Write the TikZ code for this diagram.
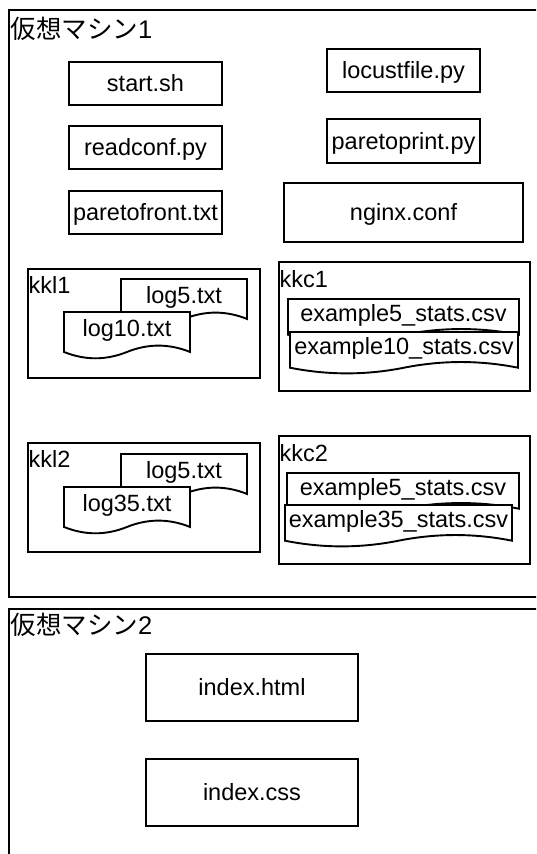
\documentclass[tikz,border=0pt]{standalone}
\usepackage{fontspec}
\setmainfont{Liberation Sans}
\newfontfamily\cjk{Noto Sans CJK JP}

% document shape: name, left, top, width, height, text
\newcommand{\docfile}[6]{%
  \begin{scope}[shift={(#2,#3)}, x=#4pt, y=-#5pt]
    \draw[docline] (0,0) -- (1,0) -- (1,0.85)
      .. controls (0.8333,0.67) and (0.6667,0.67) .. (0.5,0.85)
      .. controls (0.3333,1.03) and (0.1667,1.03) .. (0,0.85) -- cycle;
    \node[txt] (#1) at (0.5,0.35) {#6};
  \end{scope}}

\begin{document}
\begin{tikzpicture}[x=1pt, y=-1pt,
    font=\fontsize{23.5}{28}\selectfont,
    txt/.style={inner sep=0pt, text height=21pt, text depth=4.7pt},
    fbox/.style={txt, draw, line width=1.9pt},
    grp/.style={draw, line width=1.9pt, inner sep=0pt, anchor=north west},
    frame/.style={draw, line width=2pt, inner sep=0pt, anchor=north west},
    docline/.style={draw, fill=white, line width=1.9pt},
    glabel/.style={inner sep=0pt, anchor=base west}]
  \useasboundingbox (0,0) rectangle (536,854);
  \clip (0,0) rectangle (536,854);

  \node[frame, minimum width=560pt, minimum height=587pt] (vm1) at (8,9) {};
  \node[glabel, font=\fontsize{25.5}{30}\selectfont] (vm1title) at (10.5,38) {{\cjk 仮想マシン}1};

  \node[fbox, minimum width=153pt, minimum height=43pt] (start) at (145.5,83.5) {start.sh};
  \node[fbox, minimum width=153pt, minimum height=43pt] (readconf) at (145.5,147.5) {readconf.py};
  \node[fbox, minimum width=153pt, minimum height=43pt] (paretofront) at (145.5,212.5) {paretofront.txt};
  \node[fbox, minimum width=153pt, minimum height=43pt] (locust) at (403.5,70.5) {locustfile.py};
  \node[fbox, minimum width=153pt, minimum height=44pt] (paretoprint) at (403.5,141) {paretoprint.py};
  \node[fbox, minimum width=239pt, minimum height=59pt] (nginx) at (403.5,212.5) {nginx.conf};

  \node[grp, minimum width=232pt, minimum height=109pt] (kkl1) at (27,268) {};
  \node[glabel] (kkl1lbl) at (28.5,293) {kkl1};
  \docfile{logfivea}{121}{279}{126}{47}{log5.txt}
  \docfile{logten}{64}{312}{126}{47}{log10.txt}

  \node[grp, minimum width=251pt, minimum height=129pt] (kkc1) at (278,261) {};
  \node[glabel] (kkc1lbl) at (279.5,287) {kkc1};
  \docfile{exfivea}{288}{299}{231}{42}{example5\_stats.csv}
  \docfile{exten}{290}{332}{228}{42}{example10\_stats.csv}

  \node[grp, minimum width=232pt, minimum height=109pt] (kkl2) at (27,442) {};
  \node[glabel] (kkl2lbl) at (28.5,467) {kkl2};
  \docfile{logfiveb}{121}{454}{126}{47}{log5.txt}
  \docfile{logthirtyfive}{64}{487}{126}{47}{log35.txt}

  \node[grp, minimum width=251pt, minimum height=128pt] (kkc2) at (278,435) {};
  \node[glabel] (kkc2lbl) at (279.5,461) {kkc2};
  \docfile{exfiveb}{287}{473}{232}{42}{example5\_stats.csv}
  \docfile{exthirtyfive}{285}{505}{227}{42}{example35\_stats.csv}

  \node[frame, minimum width=560pt, minimum height=300pt] (vm2) at (8,608) {};
  \node[glabel, font=\fontsize{25.5}{30}\selectfont] (vm2title) at (10.5,634) {{\cjk 仮想マシン}2};

  \node[fbox, minimum width=212pt, minimum height=67pt] (indexhtml) at (252,687.5) {index.html};
  \node[fbox, minimum width=212pt, minimum height=67pt] (indexcss) at (252,792.5) {index.css};
\end{tikzpicture}
\end{document}
